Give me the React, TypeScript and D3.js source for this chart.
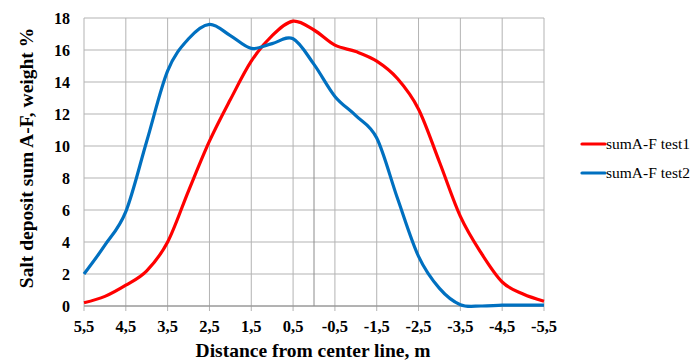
import React, { useEffect, useRef } from 'react';
import * as d3 from 'd3';

// distance from center line, m (left to right on the chart)
const distances = [
  5.5, 5.0, 4.5, 4.0, 3.5, 3.0, 2.5, 2.0, 1.5, 1.0, 0.5, 0.0,
  -0.5, -1.0, -1.5, -2.0, -2.5, -3.0, -3.5, -4.0, -4.5, -5.0, -5.5,
];

const test1 = [
  0.2, 0.6, 1.3, 2.2, 4.0, 7.2, 10.3, 12.9, 15.3, 16.9, 17.8, 17.25,
  16.3, 15.9, 15.3, 14.2, 12.3, 9.0, 5.6, 3.3, 1.5, 0.75, 0.3,
];

const test2 = [
  2.0, 3.8, 5.9, 10.3, 14.7, 16.7, 17.6, 16.9, 16.1, 16.4, 16.7, 15.1,
  13.1, 11.9, 10.5, 6.7, 3.1, 1.1, 0.08, 0.0, 0.05, 0.05, 0.05,
];

const xTicks = [5.5, 4.5, 3.5, 2.5, 1.5, 0.5, -0.5, -1.5, -2.5, -3.5, -4.5, -5.5];
const yTicks = [0, 2, 4, 6, 8, 10, 12, 14, 16, 18];

const seriesList = [
  { name: 'sumA-F test1', values: test1, color: '#ff0000' },
  { name: 'sumA-F test2', values: test2, color: '#0070c0' },
];

const W = 691;
const H = 360;

export default function App() {
  const svgRef = useRef<SVGSVGElement>(null);

  useEffect(() => {
    if (!svgRef.current) return;
    const svg = d3.select(svgRef.current);
    svg.selectAll('*').remove();

    const left = 84, right = 544, top = 18, bottom = 306;
    const font = '"Liberation Serif", "Times New Roman", serif';

    const x = d3.scaleLinear().domain([5.5, -5.5]).range([left, right]);
    const y = d3.scaleLinear().domain([0, 18]).range([bottom, top]);

    // grid
    const grid = svg.append('g');
    grid.selectAll('.vgrid')
      .data(xTicks)
      .enter()
      .append('line')
      .attr('x1', d => x(d))
      .attr('x2', d => x(d))
      .attr('y1', top)
      .attr('y2', bottom + 5)
      .attr('stroke', '#b3b3b3')
      .attr('stroke-width', 1);

    grid.selectAll('.hgrid')
      .data(yTicks)
      .enter()
      .append('line')
      .attr('x1', left)
      .attr('x2', right)
      .attr('y1', d => y(d))
      .attr('y2', d => y(d))
      .attr('stroke', '#b3b3b3')
      .attr('stroke-width', 1);

    // center line (0)
    grid.append('line')
      .attr('x1', x(0))
      .attr('x2', x(0))
      .attr('y1', top)
      .attr('y2', bottom)
      .attr('stroke', '#8c8c8c')
      .attr('stroke-width', 1);

    // axis line
    grid.append('line')
      .attr('x1', left)
      .attr('x2', right)
      .attr('y1', bottom)
      .attr('y2', bottom)
      .attr('stroke', '#8c8c8c');

    // smoothed lines
    const line = d3.line<number>()
      .x((d, i) => x(distances[i]))
      .y(d => y(d))
      .curve(d3.curveCatmullRom.alpha(0));

    svg.selectAll('.series')
      .data(seriesList)
      .enter()
      .append('path')
      .attr('d', d => line(d.values))
      .attr('fill', 'none')
      .attr('stroke', d => d.color)
      .attr('stroke-width', 3.2)
      .attr('stroke-linejoin', 'round');

    // y tick labels
    svg.selectAll('.ylab')
      .data(yTicks)
      .enter()
      .append('text')
      .attr('x', 70)
      .attr('y', d => y(d) + 5.5)
      .attr('text-anchor', 'end')
      .style('font-family', font)
      .style('font-weight', 'bold')
      .style('font-size', '16px')
      .text(d => String(d));

    // x tick labels
    svg.selectAll('.xlab')
      .data(xTicks)
      .enter()
      .append('text')
      .attr('x', d => x(d))
      .attr('y', 332)
      .attr('text-anchor', 'middle')
      .style('font-family', font)
      .style('font-weight', 'bold')
      .style('font-size', '16.5px')
      .text(d => d.toFixed(1).replace('.', ','));

    // axis titles
    svg.append('text')
      .attr('x', 313)
      .attr('y', 357)
      .attr('text-anchor', 'middle')
      .style('font-family', font)
      .style('font-weight', 'bold')
      .style('font-size', '19.5px')
      .text('Distance from center line, m');

    svg.append('text')
      .attr('transform', 'translate(33,158) rotate(-90)')
      .attr('text-anchor', 'middle')
      .style('font-family', font)
      .style('font-weight', 'bold')
      .style('font-size', '19.5px')
      .text('Salt deposit sum A-F, weight %');

    // legend
    const legend = svg.append('g')
      .selectAll('.legend-item')
      .data(seriesList)
      .enter()
      .append('g')
      .attr('transform', (d, i) => `translate(582, ${144 + i * 29})`);

    legend.append('line')
      .attr('x1', 0)
      .attr('x2', 23)
      .attr('y1', 0)
      .attr('y2', 0)
      .attr('stroke', d => d.color)
      .attr('stroke-width', 3.2)
      .attr('stroke-linecap', 'round');

    legend.append('text')
      .attr('x', 24)
      .attr('y', 5)
      .style('font-family', font)
      .style('font-size', '15.5px')
      .text(d => d.name);
  }, []);

  return (
    <div style={{ position: 'absolute', left: 0, top: 0, width: W, height: H, background: '#fff' }}>
      <svg ref={svgRef} width={W} height={H}></svg>
    </div>
  );
}
